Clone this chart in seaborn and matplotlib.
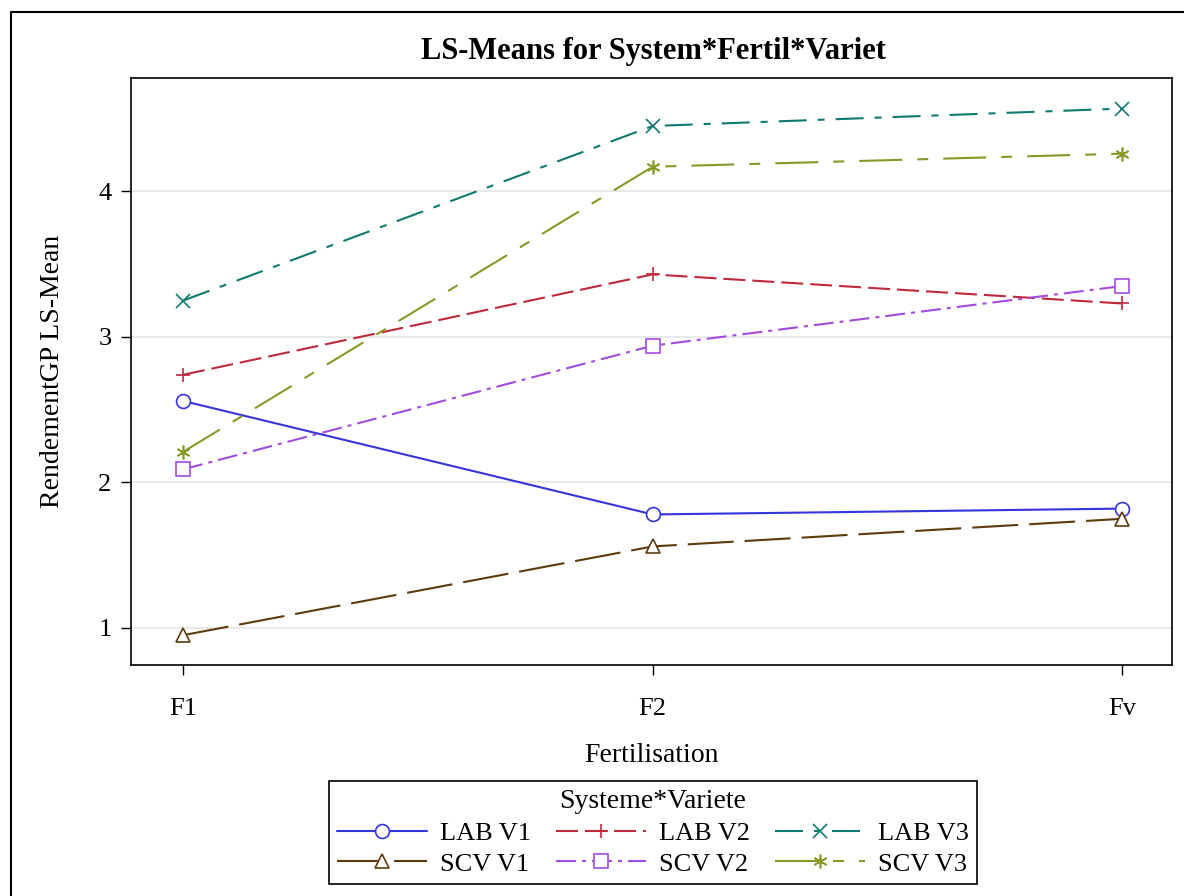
import matplotlib
matplotlib.use("Agg")
import matplotlib.pyplot as plt
from matplotlib.lines import Line2D
import seaborn as sns
import pandas as pd

# ---- data ----
fertilisation = ["F1", "F2", "Fv"]
series_names = ["LAB V1", "LAB V2", "LAB V3", "SCV V1", "SCV V2", "SCV V3"]
lab_v1 = [2.56, 1.78, 1.82]
lab_v2 = [2.74, 3.43, 3.23]
lab_v3 = [3.25, 4.45, 4.57]
scv_v1 = [0.95, 1.56, 1.75]
scv_v2 = [2.09, 2.94, 3.35]
scv_v3 = [2.21, 4.17, 4.26]
y_ticks = [1, 2, 3, 4]

values = [lab_v1, lab_v2, lab_v3, scv_v1, scv_v2, scv_v3]

# ---- styles ----
colors = ["#3535DD", "#C0283C", "#0E7A70", "#5E3A0C", "#A44BE0", "#8A9828"]
markers = ["o", "+", "x", "^", "s", (6, 2, 0)]
LW = 1.5
dash_px = [None, (22, 7), (28, 11, 7, 11), (46, 11), (20, 6, 4, 6), (43, 15, 11, 15)]

rows = []
for name, vals in zip(series_names, values):
    for f, v in zip(fertilisation, vals):
        rows.append({"Fertilisation": f, "Mean": v, "Group": name})
df = pd.DataFrame(rows)

sns.set_theme(style="white")
plt.rcParams["font.family"] = ["Liberation Serif", "DejaVu Serif"]
for key in ["text.color", "axes.labelcolor", "xtick.color", "ytick.color"]:
    plt.rcParams[key] = "black"

fig = plt.figure(figsize=(11.84, 8.96), dpi=100)
ax = fig.add_axes([131 / 1184, 1 - 665 / 896, (1172 - 131) / 1184, (665 - 78) / 896])

handles = []
for i, name in enumerate(series_names):
    sub = df[df["Group"] == name]
    if dash_px[i] is None:
        ls = "-"
    else:
        ls = (0, tuple(p * 0.72 / LW for p in dash_px[i]))
    sns.lineplot(data=sub, x="Fertilisation", y="Mean", ax=ax, color=colors[i],
                 marker=markers[i], markersize=10, markerfacecolor="white",
                 markeredgecolor=colors[i], markeredgewidth=1.2, linewidth=LW,
                 linestyle=ls, errorbar=None, sort=False, legend=False)
    ln = ax.lines[-1]
    ln.set_zorder(3)
    handles.append(ln)

ax.set_xlim(-0.111, 2.106)
ax.set_ylim(0.745, 4.78)
ax.set_yticks(y_ticks)
ax.set_yticklabels([str(t) for t in y_ticks])
ax.yaxis.grid(True, color="#E9E9E9", linewidth=1.5, zorder=0)
ax.xaxis.grid(False)
ax.set_axisbelow(True)

for sp in ax.spines.values():
    sp.set_color("black")
    sp.set_linewidth(1.2)

ax.tick_params(axis="both", which="major", direction="out", length=7, width=1.0,
               color="black", labelcolor="black", labelsize=19, bottom=True, left=True)
ax.tick_params(axis="x", pad=17)
ax.tick_params(axis="y", pad=7)

ax.set_xlabel("Fertilisation", fontsize=20, labelpad=16, color="black")
ax.set_ylabel("RendementGP LS-Mean", fontsize=20, labelpad=24, color="black")

fig.text(653.5 / 1184, 1 - 51 / 896, "LS-Means for System*Fertil*Variet",
         fontsize=22, fontweight="bold", ha="center", va="center", color="black")

# legend in row-major order (matplotlib fills columns first)
order = [0, 3, 1, 4, 2, 5]
leg = fig.legend([handles[k] for k in order], [series_names[k] for k in order],
                 loc="upper center", bbox_to_anchor=(653 / 1184, 1 - 781 / 896),
                 ncol=3, fontsize=19, title="Systeme*Variete", title_fontsize=20,
                 frameon=True, fancybox=False, edgecolor="black", framealpha=1,
                 handlelength=3.4, handletextpad=0.5, columnspacing=0.95,
                 borderpad=0.3, labelspacing=0.28, numpoints=1, borderaxespad=0)
leg.get_frame().set_linewidth(1.2)
for t in leg.get_texts():
    t.set_color("black")
leg.get_title().set_color("black")

# outer border (left and top visible)
fig.add_artist(Line2D([11 / 1184, 11 / 1184], [0, 1 - 12 / 896], color="black",
                      linewidth=1.5, transform=fig.transFigure))
fig.add_artist(Line2D([11 / 1184, 1], [1 - 12 / 896, 1 - 12 / 896], color="black",
                      linewidth=1.5, transform=fig.transFigure))

fig.savefig("out.png", dpi=100, facecolor="white")
